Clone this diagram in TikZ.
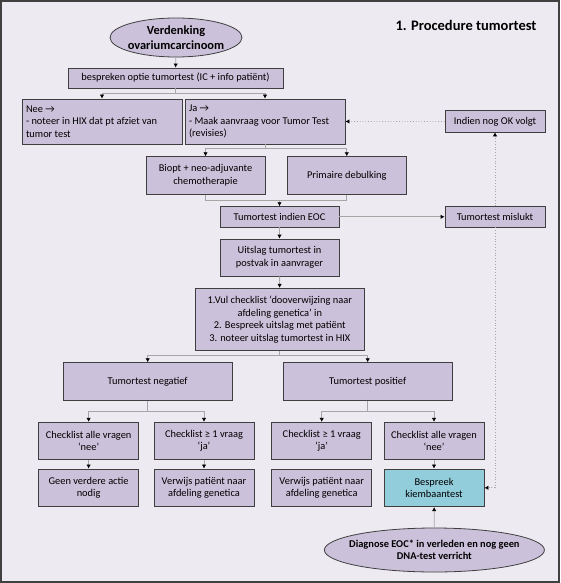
\documentclass[tikz,border=0pt]{standalone}
\usepackage{fontspec}
\setmainfont{Carlito}
\usepackage{tikz}
\usetikzlibrary{arrows.meta,shapes.geometric,positioning}
\tikzset{>={Latex[length=4pt,width=4.5pt,color=black]}}
\definecolor{paper}{HTML}{EDEAF1}
\definecolor{lila}{HTML}{CCC1DA}
\definecolor{aqua}{HTML}{92CDDC}
\definecolor{edgegray}{HTML}{3F3F3F}
\definecolor{linegray}{HTML}{A6A6A6}
\definecolor{framegray}{HTML}{404040}

\begin{document}
\begin{tikzpicture}[x=1pt,y=1pt,
	box/.style 2 args={draw=edgegray,line width=0.8pt,fill=lila,align=center,inner sep=2pt,minimum width=#1pt,minimum height=#2pt,font=\fontsize{10.4}{12.6}\selectfont},
	oval/.style 2 args={ellipse,draw=edgegray,line width=0.8pt,fill=lila,align=center,inner ysep=0pt,minimum width=#1pt,minimum height=#2pt},
	conn/.style={draw=linegray,line width=0.8pt},
	dots/.style={draw=linegray,line width=0.8pt,dotted}]
	\useasboundingbox (0,0) rectangle (560,-583);
	\fill[paper] (0,0) rectangle (560,-583);
	\draw[framegray,line width=2pt] (1,-1) rectangle (559,-582);

	\node[oval={132}{39},inner xsep=-2.5pt,font=\bfseries\fontsize{12.4}{15}\selectfont] (verd) at (176,-37.5) {Verdenking\\ovariumcarcinoom};
	\node[anchor=east,font=\bfseries\fontsize{14.5}{16}\selectfont] (titel) at (540,-25) {1. Procedure tumortest};
	\node[box={215}{20}] (bespr) at (175.5,-78) {bespreken optie tumortest (IC + info patiënt)};
	\node[box={160}{45},align=flush left,text width=152pt,inner xsep=4pt] (nee) at (102,-121.5) {Nee →\\- noteer in HIX dat pt afziet van\\tumor test};
	\node[box={160}{45},align=flush left,text width=152pt,inner xsep=4pt] (ja) at (265,-121.5) {Ja →\\- Maak aanvraag voor Tumor Test\\(revisies)};
	\node[box={100}{21}] (indien) at (495,-121.4) {Indien nog OK volgt};
	\node[box={119}{37.6}] (biopt) at (205.5,-175.5) {Biopt + neo-adjuvante\\chemotherapie};
	\node[box={118.5}{37.6}] (debulk) at (346.8,-175.5) {Primaire debulking};
	\node[box={119}{20.3}] (eoc) at (279.5,-216.8) {Tumortest indien EOC};
	\node[box={100}{20.3}] (mislukt) at (495,-216.8) {Tumortest mislukt};
	\node[box={119}{37}] (uitslag) at (279.5,-257.5) {Uitslag tumortest in\\postvak in aanvrager};
	\node[box={169.6}{62.4}] (check) at (279.8,-319.5) {1.Vul checklist ‘dooverwijzing naar\\afdeling genetica’ in\\2. Bespreek uitslag met patiënt\\3. noteer uitslag tumortest in HIX};
	\node[box={169.5}{37.6}] (neg) at (147.7,-381.5) {Tumortest negatief};
	\node[box={169.5}{37.6}] (pos) at (367.7,-381.5) {Tumortest positief};
	\node[box={100}{37}] (negnee) at (88.6,-440.8) {Checklist alle vragen\\‘nee’};
	\node[box={100}{37}] (negja) at (204,-440.8) {Checklist ≥ 1 vraag\\‘ja’};
	\node[box={100}{37}] (posja) at (321.7,-440.8) {Checklist ≥ 1 vraag\\‘ja’};
	\node[box={100}{37}] (posnee) at (434,-440.8) {Checklist alle vragen\\‘nee’};
	\node[box={100}{37.7}] (geen) at (88.6,-487.8) {Geen verdere actie\\nodig};
	\node[box={100}{37.7}] (verw1) at (204,-487.8) {Verwijs patiënt naar\\afdeling genetica};
	\node[box={100}{37.7}] (verw2) at (321.7,-487.8) {Verwijs patiënt naar\\afdeling genetica};
	\node[box={100}{37.7},fill=aqua] (kiem) at (434,-487.8) {Bespreek\\kiembaantest};
	\node[oval={220}{44},inner xsep=-9pt,font=\bfseries\fontsize{10.4}{12.6}\selectfont] (diag) at (434.4,-550) {Diagnose EOC* in verleden en nog geen\\DNA-test verricht};

	\coordinate (k1) at (bespr.south |- 0,-93);
	\coordinate (k2) at (ja.south |- 0,-148);
	\coordinate (k3) at (eoc.north |- 0,-200);
	\coordinate (k4) at (check.south |- 0,-355.7);
	\coordinate (k5) at (neg.south |- 0,-411);
	\coordinate (k6) at (pos.south |- 0,-411);

	\draw[conn,->] (verd) -- (bespr);
	\draw[conn] (bespr.south) -- (k1);
	\draw[conn,->] (k1) -| (nee.north);
	\draw[conn,->] (k1) -| (ja.north);
	\draw[conn] (ja.south) -- (k2);
	\draw[conn,->] (k2) -| (biopt.north);
	\draw[conn,->] (k2) -| (debulk.north);
	\draw[conn] (biopt.south) |- (k3);
	\draw[conn] (debulk.south) |- (k3);
	\draw[conn,->] (k3) -- (eoc.north);
	\draw[conn,->] (eoc) -- (mislukt);
	\draw[conn,->] (eoc) -- (uitslag);
	\draw[conn,->] (uitslag) -- (check);
	\draw[conn] (check.south) -- (k4);
	\draw[conn,->] (k4) -| (neg.north);
	\draw[conn,->] (k4) -| (pos.north);
	\draw[conn] (neg.south) -- (k5);
	\draw[conn,->] (k5) -| (negnee.north);
	\draw[conn,->] (k5) -| (negja.north);
	\draw[conn] (pos.south) -- (k6);
	\draw[conn,->] (k6) -| (posja.north);
	\draw[conn,->] (k6) -| (posnee.north);
	\draw[conn,->] (negnee) -- (geen);
	\draw[conn,->] (negja) -- (verw1);
	\draw[conn,->] (posnee) -- (kiem);
	\draw[conn,->] (diag) -- (kiem);

	\draw[dots,->] (mislukt) -- (indien);
	\draw[dots,->] (mislukt.south) |- (kiem.east);
	\draw[dots,->] (indien) -- (ja);
\end{tikzpicture}
\end{document}
